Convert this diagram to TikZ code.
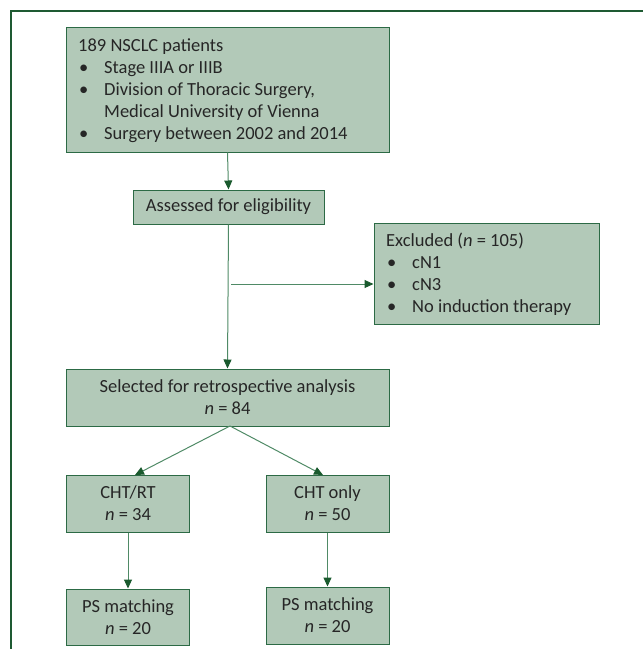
\documentclass[tikz,border=0pt]{standalone}
\usepackage{fontspec}
\setmainfont{Carlito}
\usetikzlibrary{arrows.meta,calc}
\definecolor{boxfill}{HTML}{B2C9B8}
\definecolor{boxline}{HTML}{2C6A45}
\definecolor{frameline}{HTML}{1E5A32}
\definecolor{conline}{HTML}{4F8A66}
\definecolor{tipcol}{HTML}{1A5A2E}
\definecolor{txt}{HTML}{262626}
\newcommand\bitem[1]{\makebox[26pt][l]{\hspace{1pt}\textbullet}#1}
\newcommand\bcont[1]{\hspace{26pt}#1}
\newcommand\boxfont{\fontsize{18.5pt}{22pt}\selectfont}
\tikzset{
  x=1pt, y=-1pt,
  box/.style={draw=boxline, fill=boxfill, line width=1pt, inner sep=0pt,
    font=\boxfont, text=txt},
  cbox/.style={box, align=center},
  listtext/.style={anchor=west, inner sep=0pt, align=left, font=\boxfont, text=txt},
  con/.style={draw=conline, line width=1pt, -{Triangle[length=9pt,width=8pt,color=tipcol]}},
}
\begin{document}
\begin{tikzpicture}
\useasboundingbox (0,0) rectangle (643,649);
\draw[frameline, line width=2.2pt] (11,649) -- (11,11) -- (643,11);

\node[cbox, minimum width=323pt, minimum height=125pt] (b1) at (227.5,89.5) {};
\node[listtext] (b1t) at (78,90.5)
  {189 NSCLC patients\\
   \bitem{Stage IIIA or IIIB}\\
   \bitem{Division of Thoracic Surgery,}\\
   \bcont{Medical University of Vienna}\\
   \bitem{Surgery between 2002 and 2014}};

\node[cbox, minimum width=191pt, minimum height=34pt] (b2) at (228.5,207) {Assessed for eligibility};

\node[cbox, minimum width=225pt, minimum height=101pt] (ex) at (486.5,273.5) {};
\node[listtext] (ext) at (386,274)
  {Excluded (\textit{n} = 105)\\
   \bitem{cN1}\\
   \bitem{cN3}\\
   \bitem{No induction therapy}};

\node[cbox, minimum width=323pt, minimum height=57pt] (sel) at (227.5,397.5)
  {Selected for retrospective analysis\\\textit{n} = 84};

\node[cbox, minimum width=123pt, minimum height=57pt] (c1) at (128,503.5) {CHT/RT\\\textit{n} = 34};
\node[cbox, minimum width=123pt, minimum height=57pt] (c2) at (327.5,503.5) {CHT only\\\textit{n} = 50};
\node[cbox, minimum width=123pt, minimum height=56pt] (p1) at (128,617) {PS matching\\\textit{n} = 20};
\node[cbox, minimum width=123pt, minimum height=57pt] (p2) at (327.5,615.5) {PS matching\\\textit{n} = 20};

\coordinate (br) at (231,284);
\coordinate (fork) at (230,426);
\coordinate (c1top) at (135,475);
\coordinate (c2top) at (323,475);

\draw[con] (b1.south) -- (b2.north);
\draw[con] (b2.south) -- (sel.north);
\draw[con] (br) -- (br -| ex.west);
\draw[con] (fork) -- (c1top);
\draw[con] (fork) -- (c2top);
\draw[con] (c1.south) -- (p1.north);
\draw[con] (c2.south) -- (p2.north);
\end{tikzpicture}
\end{document}
